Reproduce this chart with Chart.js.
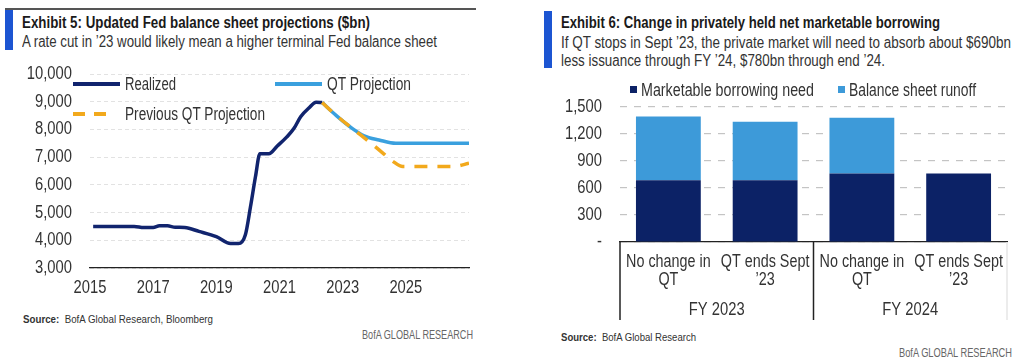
<!DOCTYPE html>
<html>
<head>
<meta charset="utf-8">
<script src="https://cdn.jsdelivr.net/npm/chart.js@4.4.1/dist/chart.umd.min.js"></script>
<style>
  html, body { margin: 0; padding: 0; background: #fff; }
  body { width: 1024px; height: 362px; position: relative; overflow: hidden;
         font-family: 'Liberation Sans', Arial, sans-serif; color: #333; }
  .abs { position: absolute; white-space: nowrap; }
  .fit { transform-origin: 0 50%; }
  .title { font-weight: bold; font-size: 16px; color: #1a1a1a; line-height: 18px; }
  .sub { font-size: 16px; color: #333; line-height: 18px; }
  .bar { position: absolute; background: #1c55d2; }
  .leg { font-size: 17.5px; color: #333; line-height: 20px; }
  .src { font-size: 11.5px; color: #333; line-height: 14px; }
  .brand { font-size: 12.5px; color: #666; line-height: 14px; }
</style>
</head>
<body>
<!-- Left panel header -->
<div class="abs" style="left:5px; top:8px; width:471px; height:2px; background:#555;"></div>
<div class="bar" style="left:5px; top:10px; width:8px; height:40px;"></div>
<div class="abs title fit" data-w="348" style="left:22px; top:14px;">Exhibit 5: Updated Fed balance sheet projections ($bn)</div>
<div class="abs sub fit" data-w="415" style="left:22px; top:33px;">A rate cut in ’23 would likely mean a higher terminal Fed balance sheet</div>

<!-- Right panel header -->
<div class="bar" style="left:544px; top:11px; width:8px; height:57px;"></div>
<div class="abs title fit" data-w="379" style="left:561px; top:14px;">Exhibit 6: Change in privately held net marketable borrowing</div>
<div class="abs sub fit" data-w="450" style="left:561px; top:34px;">If QT stops in Sept ’23, the private market will need to absorb about $690bn</div>
<div class="abs sub fit" data-w="324" style="left:561px; top:52px;">less issuance through FY ’24, $780bn through end ’24.</div>

<!-- Left chart -->
<div class="abs" style="left:0; top:60px; width:490px; height:240px;"><canvas id="c1" width="490" height="240"></canvas></div>
<!-- Left legend -->
<div class="abs" style="left:73px; top:82px; width:47px; height:4px; background:#11246e;"></div>
<div class="abs leg fit" data-w="51" style="left:125px; top:74px;">Realized</div>
<div class="abs" style="left:275px; top:82px; width:47px; height:4px; background:#3aa0de;"></div>
<div class="abs leg fit" data-w="84" style="left:327px; top:74px;">QT Projection</div>
<div class="abs" style="left:73px; top:112px; width:34px; height:4px; background:repeating-linear-gradient(90deg,#f2a91c 0 12px,transparent 12px 21px);"></div>
<div class="abs leg fit" data-w="140" style="left:125px; top:104px;">Previous QT Projection</div>

<div class="abs src fit" data-w="190" style="left:23px; top:312px;"><b>Source:</b>&nbsp; BofA Global Research, Bloomberg</div>
<div class="abs brand fit" data-w="111" style="left:362px; top:328px;">BofA GLOBAL RESEARCH</div>

<!-- Right chart -->
<div class="abs" style="left:512px; top:80px; width:512px; height:250px;"><canvas id="c2" width="512" height="250"></canvas></div>
<!-- Right legend -->
<div class="abs" style="left:630px; top:86px; width:7px; height:7px; background:#0c2266;"></div>
<div class="abs leg fit" data-w="173" style="left:641px; top:80px;">Marketable borrowing need</div>
<div class="abs" style="left:838px; top:86px; width:7px; height:7px; background:#3d9ad9;"></div>
<div class="abs leg fit" data-w="127" style="left:849px; top:80px;">Balance sheet runoff</div>

<div class="abs src fit" data-w="135" style="left:561px; top:330px;"><b>Source:</b>&nbsp; BofA Global Research</div>
<div class="abs brand fit" data-w="113" style="left:899px; top:346px;">BofA GLOBAL RESEARCH</div>

<script>
// ---------- Data: Exhibit 5 ----------
const realizedYears  = [2015.1, 2016.4, 2016.7, 2017.0, 2017.2, 2017.45, 2017.7, 2018.0, 2018.45, 2019.0, 2019.45, 2019.7, 2019.92, 2020.08, 2020.24, 2020.38, 2020.66, 2020.93, 2021.24, 2021.46, 2021.67, 2021.93, 2022.16, 2022.35];
const realizedValues = [4500, 4500, 4460, 4460, 4520, 4520, 4470, 4460, 4320, 4130, 3880, 3880, 4200, 5200, 6300, 7120, 7120, 7400, 7740, 8040, 8460, 8770, 8980, 8970];
const qtYears        = [2022.35, 2022.8, 2023.3, 2023.68, 2024.15, 2024.68, 2027.0];
const qtValues       = [8970, 8500, 8040, 7770, 7620, 7500, 7500];
const prevYears      = [2022.35, 2022.8, 2023.3, 2023.9, 2024.3, 2024.6, 2024.9, 2026.5, 2027.0];
const prevValues     = [8970, 8500, 8040, 7500, 7120, 6840, 6660, 6660, 6780];
const leftYTicks     = [3000, 4000, 5000, 6000, 7000, 8000, 9000, 10000];
const leftXTicks     = [2015, 2017, 2019, 2021, 2023, 2025];

// ---------- Data: Exhibit 6 ----------
const barCategories  = [['No change in', 'QT'], ['QT ends Sept', '’23'], ['No change in', 'QT'], ['QT ends Sept', '’23']];
const groupLabels    = ['FY 2023', 'FY 2024'];
const borrowingNeed  = [685, 685, 760, 760];
const sheetRunoff    = [710, 650, 620, 0];
const rightYTicks    = [0, 300, 600, 900, 1200, 1500];

// fit HTML text widths (narrow typeface look)
document.querySelectorAll('.fit').forEach(el => {
  const w = el.getBoundingClientRect().width;
  el.style.transform = 'scaleX(' + (parseFloat(el.dataset.w) / w) + ')';
});

const FONT = "'Liberation Sans', Arial, sans-serif";
const NARROW = 0.82;
Chart.defaults.font.family = FONT;
Chart.defaults.font.size = 17;
Chart.defaults.color = '#333';
Chart.defaults.animation = false;

function narrowText(ctx, text, x, y, align, size) {
  ctx.save();
  ctx.translate(x, y);
  ctx.scale(NARROW, 1);
  ctx.font = size + 'px ' + FONT;
  ctx.fillStyle = '#333';
  ctx.textAlign = align;
  ctx.textBaseline = 'middle';
  ctx.fillText(text, 0, 0);
  ctx.restore();
}

// Draws tick labels of both axes in a narrow style, at positions from the chart's own scales
const narrowTicks = {
  id: 'narrowTicks',
  afterDraw(chart, args, opts) {
    const { ctx, chartArea } = chart;
    const ys = chart.scales.y, xs = chart.scales.x;
    ys.ticks.forEach(t => {
      narrowText(ctx, opts.yFormat(t.value), chartArea.left - 18, ys.getPixelForValue(t.value), 'right', 18);
    });
    xs.ticks.forEach((t, i) => {
      const x = xs.getPixelForTick(i);
      let lab = opts.xLabel(t.value, i);
      if (!Array.isArray(lab)) lab = [lab];
      lab.forEach((line, j) => narrowText(ctx, line, x, chartArea.bottom + opts.xOffset + j * 18, 'center', opts.xSize));
    });
  }
};

const pts = (xs, ys) => xs.map((x, i) => ({ x: x, y: ys[i] }));

new Chart(document.getElementById('c1'), {
  type: 'line',
  data: {
    datasets: [
      { label: 'Previous QT Projection', data: pts(prevYears, prevValues), borderColor: '#f2a91c', borderWidth: 3.5, borderDash: [13, 10], pointRadius: 0, cubicInterpolationMode: 'monotone', order: 0 },
      { label: 'Realized', data: pts(realizedYears, realizedValues), borderColor: '#11246e', borderWidth: 3.5, pointRadius: 0, cubicInterpolationMode: 'monotone', order: 1 },
      { label: 'QT Projection', data: pts(qtYears, qtValues), borderColor: '#3aa0de', borderWidth: 3.5, pointRadius: 0, cubicInterpolationMode: 'monotone', order: 2 }
    ]
  },
  options: {
    responsive: false,
    layout: { padding: { top: 14, right: 21, left: 0, bottom: 0 } },
    plugins: {
      legend: { display: false }, tooltip: { enabled: false },
      narrowTicks: { yFormat: v => v.toLocaleString('en-US'), xLabel: v => String(v), xOffset: 20, xSize: 18 }
    },
    scales: {
      x: {
        type: 'linear', min: 2015, max: 2027,
        afterBuildTicks: s => { s.ticks = leftXTicks.map(v => ({ value: v })); },
        ticks: { display: false },
        grid: { display: true, drawOnChartArea: false, drawTicks: false },
        border: { display: true, color: '#222', width: 1.3 },
        afterFit: s => { s.height = 32; }
      },
      y: {
        min: 3000, max: 10000,
        afterBuildTicks: s => { s.ticks = leftYTicks.map(v => ({ value: v })); },
        ticks: { display: false },
        grid: { color: '#e2e2e2', lineWidth: 1, drawTicks: false },
        border: { display: false, dash: [4, 3] },
        afterFit: s => { s.width = 90; }
      }
    }
  },
  plugins: [narrowTicks]
});

const groupPlugin = {
  id: 'groups',
  afterDraw(chart) {
    const { ctx, chartArea } = chart;
    const xs = chart.scales.x;
    const mid = (xs.getPixelForValue(1) + xs.getPixelForValue(2)) / 2;
    const top = chartArea.bottom, bot = chartArea.bottom + 78;
    ctx.save();
    ctx.lineWidth = 1.5;
    ctx.strokeStyle = '#222';
    [chartArea.left, mid].forEach(x => { ctx.beginPath(); ctx.moveTo(x, top); ctx.lineTo(x, bot); ctx.stroke(); });
    ctx.strokeStyle = '#e6e6e6';
    ctx.beginPath(); ctx.moveTo(chartArea.right, top); ctx.lineTo(chartArea.right, bot); ctx.stroke();
    ctx.restore();
    narrowText(ctx, groupLabels[0], (chartArea.left + mid) / 2, chartArea.bottom + 68, 'center', 18);
    narrowText(ctx, groupLabels[1], (mid + chartArea.right) / 2, chartArea.bottom + 68, 'center', 18);
  }
};

new Chart(document.getElementById('c2'), {
  type: 'bar',
  data: {
    labels: barCategories,
    datasets: [
      { label: 'Marketable borrowing need', data: borrowingNeed, backgroundColor: '#0c2266', barPercentage: 0.67, categoryPercentage: 1 },
      { label: 'Balance sheet runoff', data: sheetRunoff, backgroundColor: '#3d9ad9', barPercentage: 0.67, categoryPercentage: 1 }
    ]
  },
  options: {
    responsive: false,
    layout: { padding: { top: 27, right: 17, left: 0, bottom: 0 } },
    plugins: {
      legend: { display: false }, tooltip: { enabled: false },
      narrowTicks: { yFormat: v => v === 0 ? '-' : v.toLocaleString('en-US'), xLabel: (v, i) => barCategories[i], xOffset: 20, xSize: 17.5 }
    },
    scales: {
      x: {
        stacked: true,
        ticks: { display: false },
        grid: { display: true, drawOnChartArea: false, drawTicks: false },
        border: { display: true, color: '#222', width: 1.3 },
        afterFit: s => { s.height = 88; }
      },
      y: {
        stacked: true, min: 0, max: 1500,
        afterBuildTicks: s => { s.ticks = rightYTicks.map(v => ({ value: v })); },
        ticks: { display: false },
        grid: { color: '#c4c4c4', lineWidth: 1.2, drawTicks: false },
        border: { display: false, dash: [7, 7] },
        afterFit: s => { s.width = 108; }
      }
    }
  },
  plugins: [narrowTicks, groupPlugin]
});
</script>
</body>
</html>
